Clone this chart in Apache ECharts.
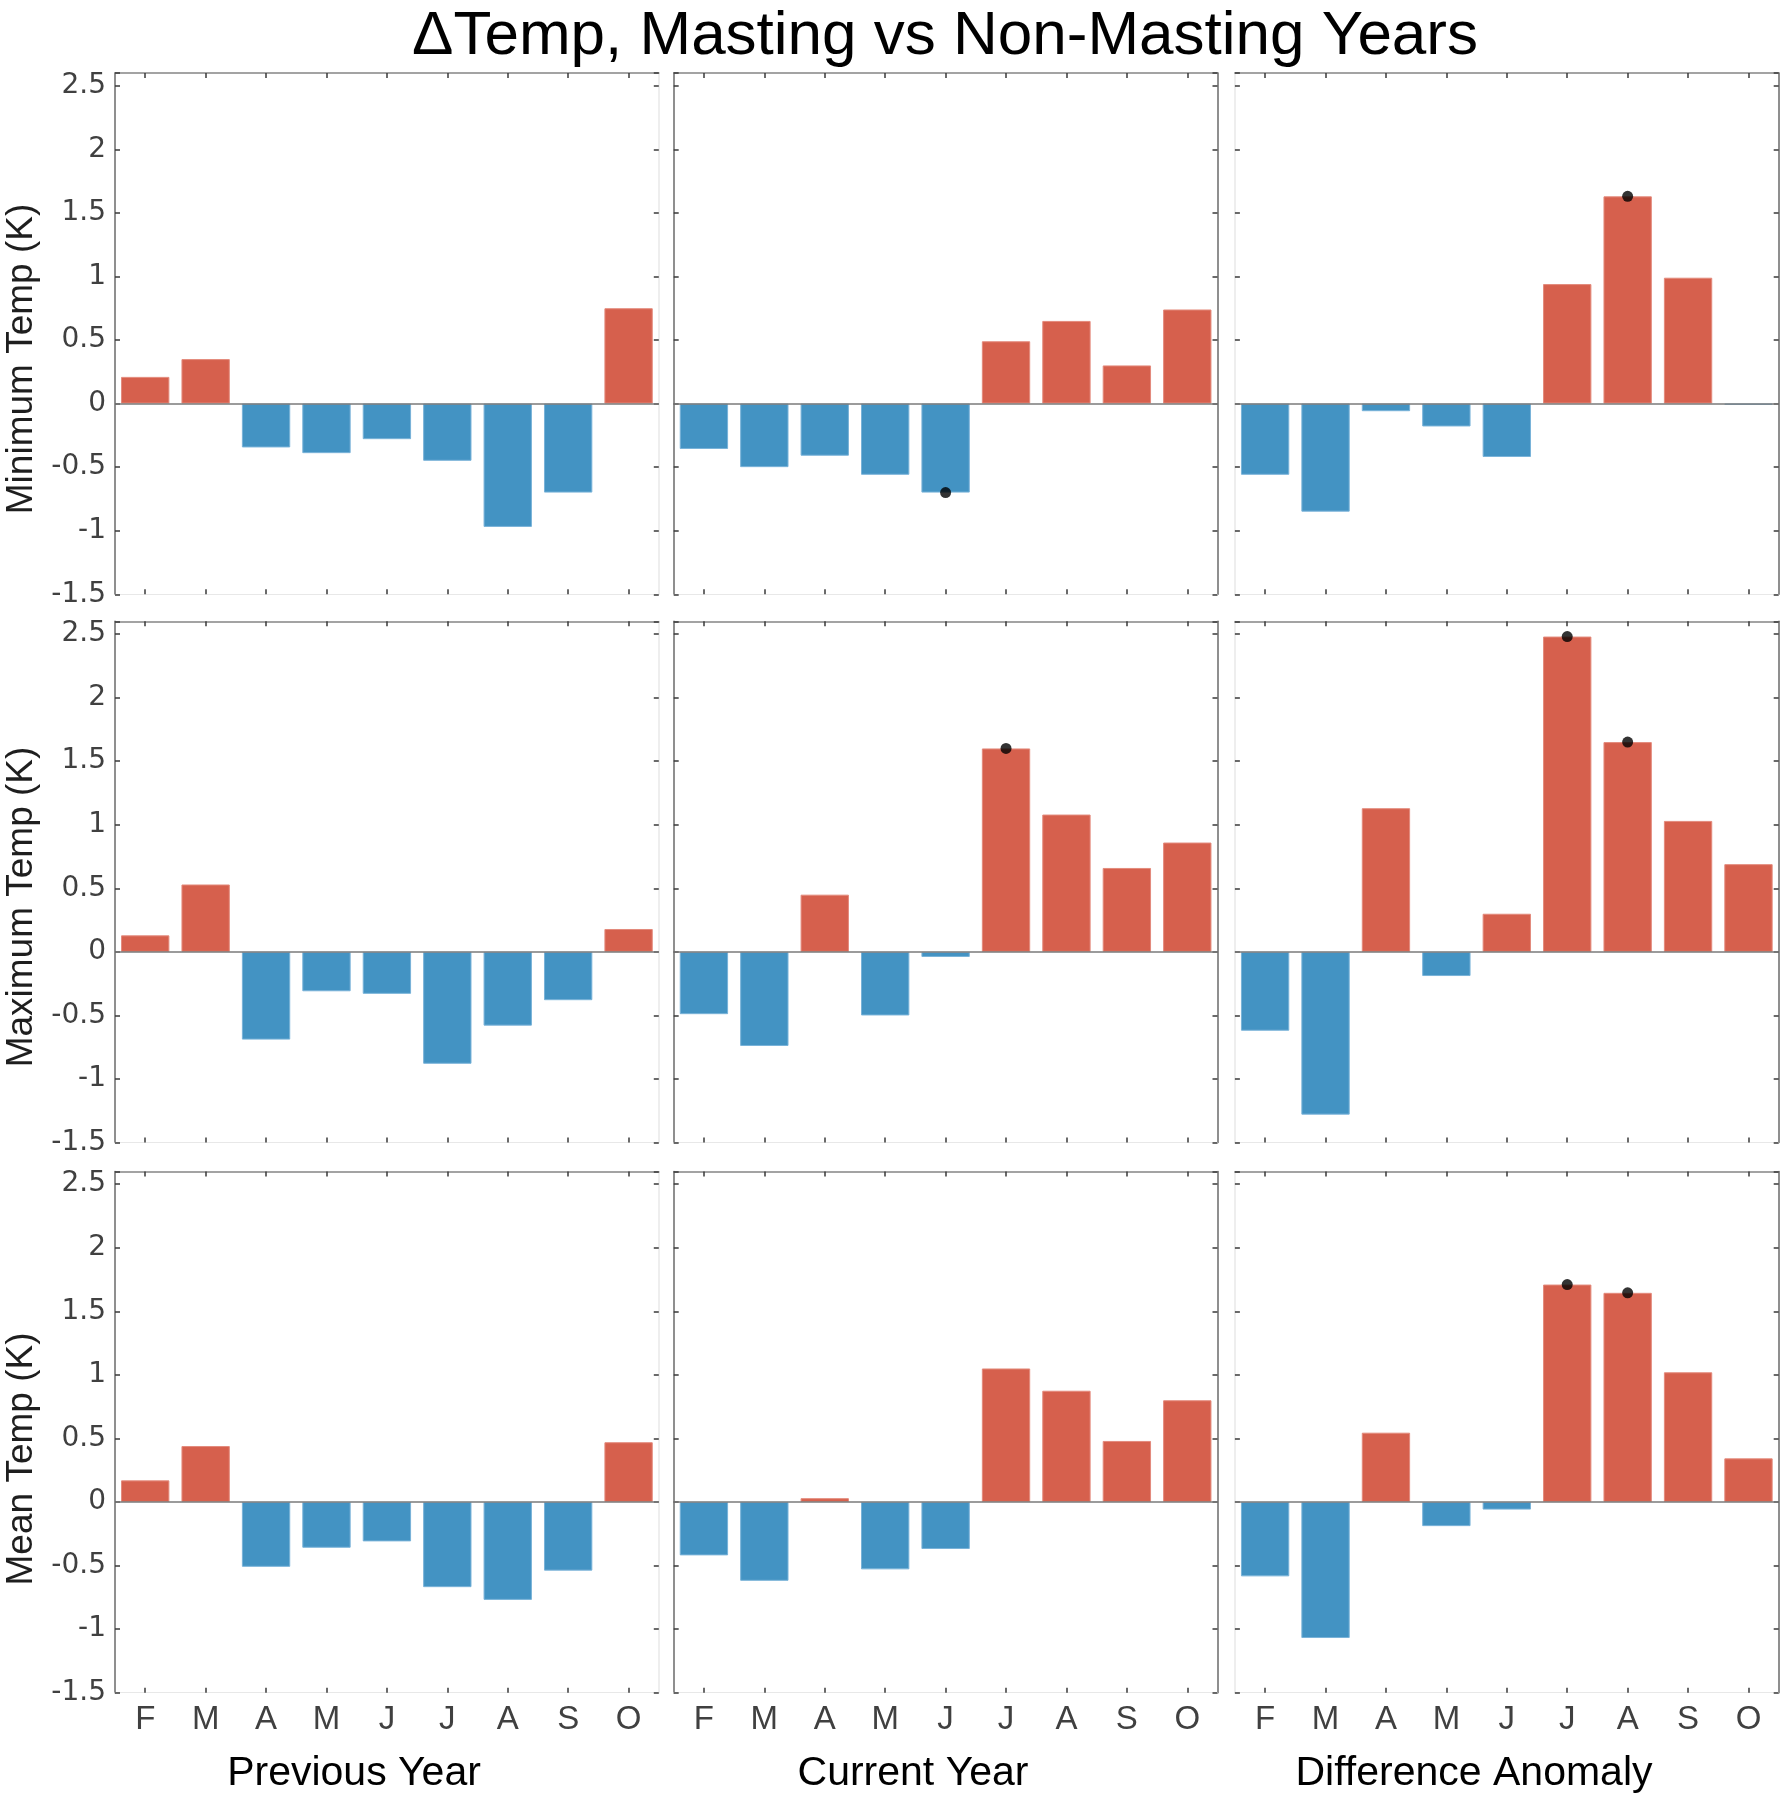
<!DOCTYPE html>
<html><head><meta charset="utf-8">
<script src="https://cdn.jsdelivr.net/npm/echarts@6/dist/echarts.min.js"></script>
<style>html,body{margin:0;padding:0;background:#fff}#c{width:1790px;height:1800px}</style>
</head><body><div id="c"></div>
<script>
// ---- data ----
const months = ['F','M','A','M','J','J','A','S','O'];
const yTicks = [-1.5,-1,-0.5,0,0.5,1,1.5,2,2.5];
const yMin = -1.5, yMax = 2.6, yStep = 0.5;
const rowNames = ['Minimum Temp (K)','Maximum Temp (K)','Mean Temp (K)'];
const colNames = ['Previous Year','Current Year','Difference Anomaly'];
const titleText = '\u0394Temp, Masting vs Non-Masting Years';

const minPrev  = [0.21, 0.35, -0.345, -0.39, -0.28, -0.45, -0.97, -0.70, 0.75];
const minCurr  = [-0.357, -0.50, -0.41, -0.56, -0.70, 0.49, 0.65, 0.30, 0.74];
const minDiff  = [-0.56, -0.85, -0.06, -0.18, -0.42, 0.94, 1.63, 0.99, -0.01];
const maxPrev  = [0.13, 0.53, -0.69, -0.31, -0.33, -0.88, -0.58, -0.38, 0.18];
const maxCurr  = [-0.49, -0.74, 0.45, -0.50, -0.04, 1.60, 1.08, 0.66, 0.86];
const maxDiff  = [-0.62, -1.28, 1.13, -0.19, 0.30, 2.48, 1.65, 1.03, 0.69];
const meanPrev = [0.17, 0.44, -0.51, -0.36, -0.31, -0.67, -0.77, -0.54, 0.47];
const meanCurr = [-0.42, -0.62, 0.03, -0.53, -0.37, 1.05, 0.875, 0.48, 0.80];
const meanDiff = [-0.585, -1.07, 0.545, -0.19, -0.06, 1.71, 1.645, 1.02, 0.343];

// significant months (indices into months) marked with a dot
const minPrevSig = [], minCurrSig = [4], minDiffSig = [6];
const maxPrevSig = [], maxCurrSig = [5], maxDiffSig = [5, 6];
const meanPrevSig = [], meanCurrSig = [], meanDiffSig = [5, 6];

// ---- layout / style ----
const panels = [[minPrev, minCurr, minDiff],[maxPrev, maxCurr, maxDiff],[meanPrev, meanCurr, meanDiff]];
const sigs = [[minPrevSig, minCurrSig, minDiffSig],[maxPrevSig, maxCurrSig, maxDiffSig],[meanPrevSig, meanCurrSig, meanDiffSig]];
const colLeft = [115, 673.7, 1234.9], colW = 543.8;
const rowTop = [73, 621.3, 1171.4], rowH = 521.3;
const RED = '#D6604D', BLUE = '#4393C3', RED_EDGE = '#e38a7c', BLUE_EDGE = '#78b2d8';
const DARK = '#6a6a6a', FAINT = '#e8e8e8', TOPC = '#858585', TICK = '#3a3a3a', LABEL = '#404040';
const FONT = "'Liberation Sans', Arial, Helvetica, sans-serif";
const TFONT = "'DejaVu Sans', 'Liberation Sans', sans-serif";

const grid = [], xAxis = [], yAxis = [], series = [];
for (let r = 0; r < 3; r++) {
  for (let c = 0; c < 3; c++) {
    const g = r * 3 + c;
    grid.push({left: colLeft[c], top: rowTop[r], width: colW, height: rowH, containLabel: false});
    const tick = {show: true, inside: true, length: 5, alignWithLabel: true, lineStyle: {color: TICK, width: 1.5}};
    xAxis.push({type: 'category', gridIndex: g, data: months, position: 'bottom', boundaryGap: true,
      axisLine: {show: true, onZero: false, lineStyle: {color: FAINT, width: 1}},
      axisTick: tick,
      axisLabel: {show: r === 2, interval: 0, margin: 11, fontSize: 33, fontFamily: FONT, color: LABEL},
      splitLine: {show: false}});
    xAxis.push({type: 'category', gridIndex: g, data: months, position: 'top', boundaryGap: true,
      axisLine: {show: true, onZero: false, lineStyle: {color: TOPC, width: 1.5}},
      axisTick: tick, axisLabel: {show: false}, splitLine: {show: false}});
    const ytick = {show: true, inside: true, length: 5, lineStyle: {color: TICK, width: 1.5}};
    yAxis.push({type: 'value', gridIndex: g, min: yMin, max: yMax, interval: yStep, position: 'left',
      axisLine: {show: true, lineStyle: {color: c === 2 ? FAINT : DARK, width: 1.5}},
      axisTick: ytick,
      axisLabel: {show: c === 0, margin: 9, fontSize: 28, fontFamily: TFONT, color: LABEL,
        formatter: v => yTicks.some(t => Math.abs(t - v) < 1e-6) ? String(+v.toFixed(2)) : ''},
      splitLine: {show: false}});
    yAxis.push({type: 'value', gridIndex: g, min: yMin, max: yMax, interval: yStep, position: 'right',
      axisLine: {show: true, lineStyle: {color: c === 0 ? FAINT : DARK, width: 1.5}},
      axisTick: ytick, axisLabel: {show: false}, splitLine: {show: false}});
    const vals = panels[r][c];
    series.push({type: 'bar', xAxisIndex: 2 * g, yAxisIndex: 2 * g, barWidth: '80%',
      data: vals.map(v => ({value: v, itemStyle: {color: v >= 0 ? RED : BLUE, borderColor: v >= 0 ? RED_EDGE : BLUE_EDGE, borderWidth: 1}})),
      markLine: {silent: true, symbol: ['none', 'none'], label: {show: false},
        lineStyle: {color: '#7a7a7a', width: 1.5, type: 'solid'}, data: [{yAxis: 0}]}});
    series.push({type: 'scatter', xAxisIndex: 2 * g, yAxisIndex: 2 * g, symbolSize: 11, z: 5,
      itemStyle: {color: '#000'}, data: sigs[r][c].map(i => [i, vals[i]])});
  }
}

const rowCenters = [359, 907, 1459];
const colCenters = [354, 913, 1474];
const graphic = [{type: 'text', x: 945, y: 37, style: {text: titleText, fill: '#000', font: `62px ${FONT}`, textAlign: 'center', textVerticalAlign: 'middle'}}];
rowNames.forEach((t, i) => graphic.push({type: 'text', x: 22, y: rowCenters[i], rotation: Math.PI / 2,
  style: {text: t, fill: '#1e1e1e', font: `37px ${FONT}`, textAlign: 'center', textVerticalAlign: 'middle'}}));
colNames.forEach((t, i) => graphic.push({type: 'text', x: colCenters[i], y: 1774,
  style: {text: t, fill: '#000', font: `41px ${FONT}`, textAlign: 'center', textVerticalAlign: 'middle'}}));

const chart = echarts.init(document.getElementById('c'), null, {renderer: 'canvas'});
chart.setOption({animation: false, backgroundColor: '#fff', grid, xAxis, yAxis, series, graphic});
</script></body></html>
